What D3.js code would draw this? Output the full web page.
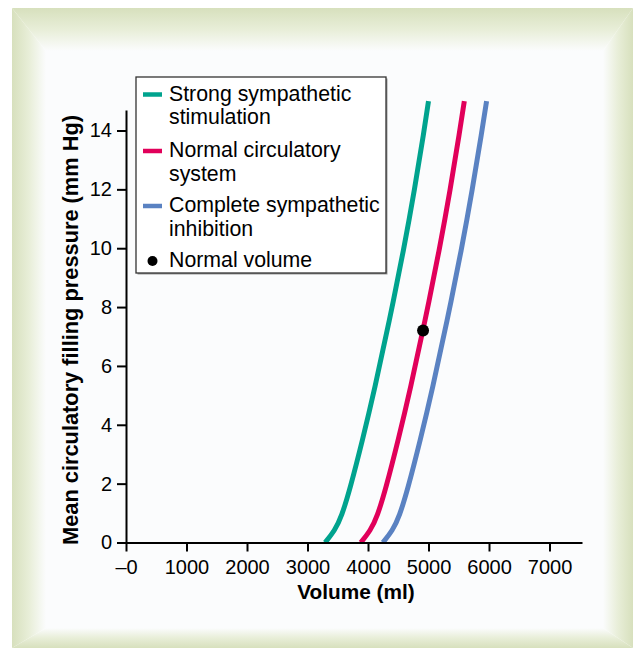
<!DOCTYPE html>
<html><head><meta charset="utf-8">
<script src="https://cdn.jsdelivr.net/npm/d3@7"></script>
<style>body{margin:0;background:#fff}svg{display:block}</style>
</head><body><svg id="c" width="638" height="649"></svg>
<script>
// ---- data ----
const pressure = [0, 0.4, 0.9, 1.8, 3.5, 5.2, 7.5, 10, 12, 14, 15];
const strongSympathetic = [3290, 3450, 3565, 3700, 3912, 4108, 4350, 4595, 4770, 4928, 5000];
const normalSystem = [3880, 4040, 4155, 4290, 4502, 4698, 4940, 5185, 5360, 5518, 5592];
const sympatheticInhibition = [4245, 4405, 4520, 4655, 4867, 5063, 5305, 5550, 5725, 5885, 5960];
const normalVolumePoint = [4910, 7.2];
const xTicks = [0, 1000, 2000, 3000, 4000, 5000, 6000, 7000];
const xTickLabels = ["\u20130", "1000", "2000", "3000", "4000", "5000", "6000", "7000"];
const yTicks = [0, 2, 4, 6, 8, 10, 12, 14];
const seriesNames = [["Strong sympathetic", "stimulation"], ["Normal circulatory", "system"], ["Complete sympathetic", "inhibition"]];
const seriesColors = ["#00a38e", "#e1005a", "#5a82c2"];
const xTitle = "Volume (ml)";
const yTitle = "Mean circulatory filling pressure (mm Hg)";
const dotLabel = "Normal volume";

const series = [strongSympathetic, normalSystem, sympatheticInhibition];
const FONT = "'Liberation Sans', Arial, Helvetica, sans-serif";

const svg = d3.select("#c");
const defs = svg.append("defs");

// ---- beveled frame ----
const L = 12, T = 8, R = 633, B = 648, l = 46, t = 51, r = 603, b = 628;
const green = "#d7e0bd", mid = "#e8eed8", white = "#fbfcfd";
function grad(id, x1, y1, x2, y2) {
  const g = defs.append("linearGradient").attr("id", id).attr("gradientUnits", "userSpaceOnUse")
    .attr("x1", x1).attr("y1", y1).attr("x2", x2).attr("y2", y2);
  g.append("stop").attr("offset", 0).attr("stop-color", green);
  g.append("stop").attr("offset", 0.5).attr("stop-color", mid);
  g.append("stop").attr("offset", 1).attr("stop-color", white);
}
grad("gt", 0, T, 0, t); grad("gb", 0, B, 0, b); grad("gl", L, 0, l, 0); grad("gr", R, 0, r, 0);
svg.append("rect").attr("x", l - 1).attr("y", t - 1).attr("width", r - l + 2).attr("height", b - t + 2).attr("fill", white);
const polys = [
  ["gt", [[L, T], [R, T], [r, t], [l, t]]],
  ["gb", [[L, B], [R, B], [r, b], [l, b]]],
  ["gl", [[L, T], [l, t], [l, b], [L, B]]],
  ["gr", [[R, T], [r, t], [r, b], [R, B]]]
];
polys.forEach(([id, pts]) => svg.append("polygon").attr("points", pts.map(p => p.join(",")).join(" ")).attr("fill", `url(#${id})`));

// ---- scales ----
const x = d3.scaleLinear().domain([0, 7537]).range([126, 582]);
const y = d3.scaleLinear().domain([0, 14.7]).range([542.5, 109.9]);

// ---- curves ----
const line = d3.line().x(d => x(d[0])).y(d => y(d[1])).curve(d3.curveBasis);
series.forEach((vals, i) => {
  svg.append("path").datum(vals.map((v, k) => [v, pressure[k]]))
    .attr("d", line).attr("fill", "none").attr("stroke", seriesColors[i])
    .attr("stroke-width", 5).attr("stroke-linecap", "butt");
});

// ---- axes ----
const xAxis = svg.append("g").attr("transform", `translate(0,${y(0)})`)
  .call(d3.axisBottom(x).tickValues(xTicks).tickFormat((d, i) => xTickLabels[i]).tickSize(9).tickSizeOuter(0).tickPadding(8));
const yAxis = svg.append("g").attr("transform", `translate(${x(0)},0)`)
  .call(d3.axisLeft(y).tickValues(yTicks).tickSize(9).tickSizeOuter(0).tickPadding(5));
[xAxis, yAxis].forEach(a => {
  a.select(".domain").attr("stroke", "#000").attr("stroke-width", 2);
  a.selectAll(".tick line").attr("stroke", "#000").attr("stroke-width", 2);
  a.selectAll(".tick text").attr("fill", "#000").style("font-family", FONT).style("font-size", "20px");
});

// normal volume dot
svg.append("circle").attr("cx", x(normalVolumePoint[0])).attr("cy", y(normalVolumePoint[1])).attr("r", 6).attr("fill", "#000");

// ---- titles ----
svg.append("text").attr("x", 356).attr("y", 599).attr("text-anchor", "middle")
  .style("font-family", FONT).style("font-size", "20.8px").style("font-weight", "bold").text(xTitle);
svg.append("text").attr("transform", "translate(78,330) rotate(-90)").attr("text-anchor", "middle")
  .style("font-family", FONT).style("font-size", "21.8px").style("font-weight", "bold").text(yTitle);

// ---- legend ----
const lg = svg.append("g");
lg.append("rect").attr("x", 137.5).attr("y", 78.5).attr("width", 250).attr("height", 196).attr("fill", "#999");
lg.append("rect").attr("x", 136).attr("y", 77).attr("width", 250).attr("height", 196).attr("fill", "#fff").attr("stroke", "#333").attr("stroke-width", 1.3);
const baselines = [100.5, 157, 212];
seriesNames.forEach((lines, i) => {
  lg.append("line").attr("x1", 143).attr("x2", 162).attr("y1", baselines[i] - 6).attr("y2", baselines[i] - 6)
    .attr("stroke", seriesColors[i]).attr("stroke-width", 4.5);
  lines.forEach((s, j) => lg.append("text").attr("x", 169).attr("y", baselines[i] + j * 23.5)
    .style("font-family", FONT).style("font-size", "21.3px").attr("fill", "#000").text(s));
});
lg.append("circle").attr("cx", 152.5).attr("cy", 261).attr("r", 5).attr("fill", "#000");
lg.append("text").attr("x", 169).attr("y", 266.5).style("font-family", FONT).style("font-size", "21.3px").attr("fill", "#000").text(dotLabel);
</script></body></html>
